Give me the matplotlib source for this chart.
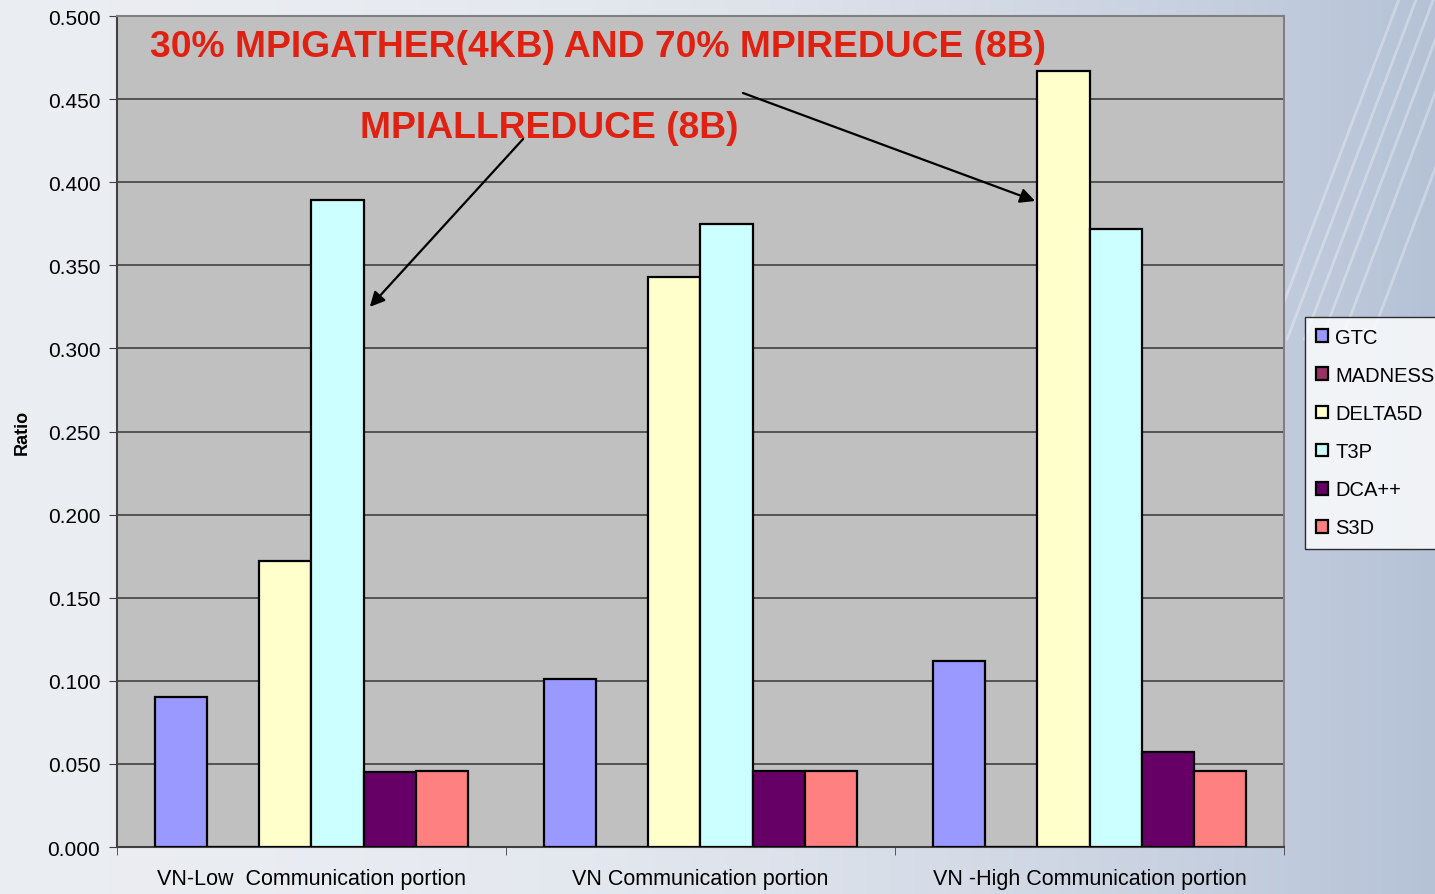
import numpy as np
import matplotlib
matplotlib.use("Agg")
import matplotlib.pyplot as plt

plt.rcParams["font.family"] = ["Liberation Sans", "DejaVu Sans"]

categories = ["VN-Low  Communication portion", "VN Communication portion",
              "VN -High Communication portion"]
series = ["GTC", "MADNESS", "DELTA5D", "T3P", "DCA++", "S3D"]
gtc = [0.090, 0.101, 0.112]
madness = [0.0, 0.0, 0.0]
delta5d = [0.172, 0.343, 0.467]
t3p = [0.389, 0.375, 0.372]
dca = [0.045, 0.046, 0.057]
s3d = [0.046, 0.046, 0.046]
colors = ["#9999FF", "#993366", "#FFFFCC", "#CCFFFF", "#660066", "#FF8080"]

values = [gtc, madness, delta5d, t3p, dca, s3d]

fig = plt.figure(figsize=(14.35, 8.95), dpi=100)

# background gradient with a few diagonal streaks on the right
bg = fig.add_axes([0, 0, 1, 1], zorder=-10)
grad = np.linspace(0, 1, 300) ** 2.2
c0 = np.array([0.92, 0.93, 0.95])
c1 = np.array([0.71, 0.76, 0.84])
img = c0[None, :] + (c1 - c0)[None, :] * grad[:, None]
bg.imshow(img[None, :, :], aspect="auto", extent=[0, 1, 0, 1])
for off in [0.0, 0.012, 0.024, 0.036, 0.05, 0.07]:
    bg.plot([0.885 + off, 0.975 + off], [0.62, 1.0], color="white", alpha=0.3, lw=2)
bg.set_xlim(0, 1)
bg.set_ylim(0, 1)
bg.axis("off")

ax = fig.add_axes([0.0815, 0.0525, 0.8133, 0.9285])
ax.set_facecolor("#C0C0C0")

x = np.arange(len(categories))
width = 0.134
for i, (name, vals) in enumerate(zip(series, values)):
    offs = (i - 2.5) * width
    ax.bar(x + offs, vals, width, color=colors[i], edgecolor="black",
           linewidth=1.6, label=name, zorder=3)

ax.set_xlim(-0.5, 2.5)
ax.set_ylim(0, 0.5)
ax.set_yticks(np.arange(0, 0.501, 0.05))
ax.set_yticklabels([f"{v:.3f}" for v in np.arange(0, 0.501, 0.05)], fontsize=15)
ax.yaxis.grid(True, color="#404040", linewidth=1.2, zorder=0)
ax.set_axisbelow(True)
ax.set_xticks(x)
ax.set_xticklabels(categories, fontsize=15.5)
ax.tick_params(axis="x", length=0, pad=15)
ax.set_xticks([-0.5, 0.5, 1.5, 2.5], minor=True)
ax.tick_params(axis="x", which="minor", length=6, color="#404040")
ax.tick_params(axis="y", length=6, color="#404040", pad=6)
ax.set_ylabel("Ratio", fontsize=13, fontweight="bold", labelpad=12)

for s in ["top", "right"]:
    ax.spines[s].set_color("#808080")
    ax.spines[s].set_linewidth(1.5)
ax.spines["left"].set_color("#404040")
ax.spines["bottom"].set_color("#404040")
ax.spines["left"].set_linewidth(1.5)
ax.spines["bottom"].set_linewidth(1.5)

red = "#E02010"
ax.text(0.028, 0.963, "30% MPIGATHER(4KB) AND 70% MPIREDUCE (8B)",
        transform=ax.transAxes, color=red, fontsize=26.8, fontweight="bold",
        va="center", ha="left", zorder=5)
ax.text(0.208, 0.866, "MPIALLREDUCE (8B)", transform=ax.transAxes, color=red,
        fontsize=26.8, fontweight="bold", va="center", ha="left", zorder=5)

arrow = dict(arrowstyle="-|>", color="black", lw=1.6, mutation_scale=22,
             shrinkA=0, shrinkB=0)
ax.annotate("", xy=(0.150, 0.325), xytext=(0.544, 0.426), arrowprops=arrow, zorder=6)
ax.annotate("", xy=(1.860, 0.3887), xytext=(1.109, 0.4537), arrowprops=arrow, zorder=6)

leg = fig.legend(loc="upper left", bbox_to_anchor=(0.9095, 0.645), fontsize=14.5,
                 frameon=True, fancybox=False, handlelength=0.6, handleheight=0.6,
                 handletextpad=0.35, labelspacing=0.95, borderpad=0.55,
                 borderaxespad=0)
leg.get_frame().set_edgecolor("black")
leg.get_frame().set_facecolor("white")
leg.get_frame().set_linewidth(1.0)

fig.savefig("out.png", dpi=100)
